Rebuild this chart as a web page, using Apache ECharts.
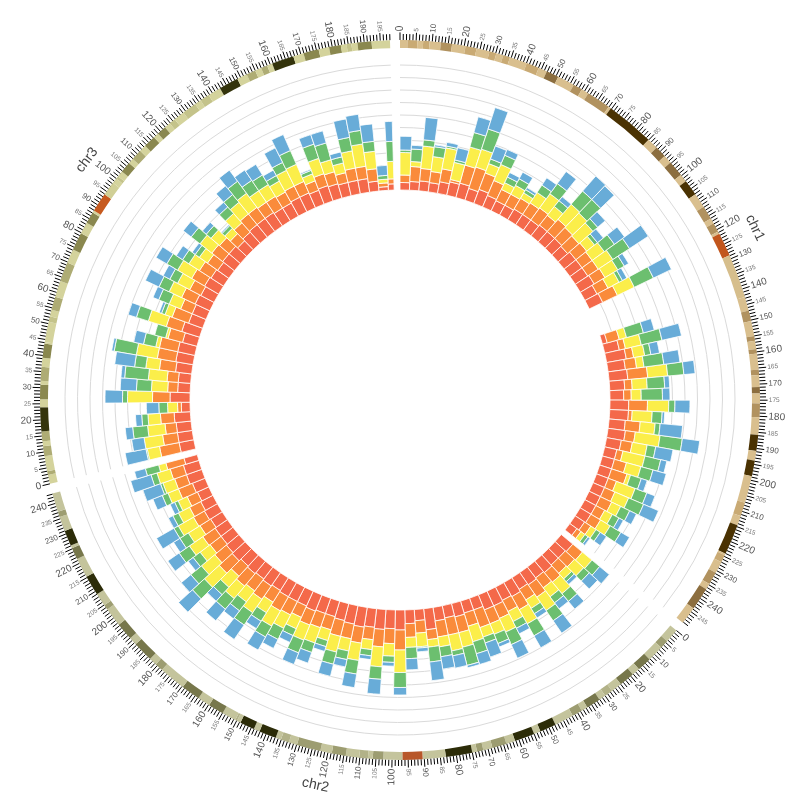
<!DOCTYPE html>
<html><head><meta charset="utf-8">
<script src="https://cdn.jsdelivr.net/npm/echarts@6/dist/echarts.min.js"></script>
<style>html,body{margin:0;padding:0;background:#fff}#c{width:800px;height:800px}</style>
</head><body><div id="c"></div>
<script>
const chromNames = ['chr1', 'chr2', 'chr3'];
const chromLengths = [249.25, 243.2, 198.02]; // Mb
const binSize = 5; // Mb
const layerNames = ['red', 'orange', 'yellow', 'green', 'blue'];

// hg19 cytobands [start, end, stain]
const chr1Bands = [[0,2.3,'gneg'],[2.3,5.4,'gpos25'],[5.4,7.2,'gneg'],[7.2,9.2,'gpos25'],[9.2,12.7,'gneg'],[12.7,16.2,'gpos50'],[16.2,20.4,'gneg'],[20.4,23.9,'gpos25'],[23.9,28,'gneg'],[28,30.2,'gpos25'],[30.2,32.4,'gneg'],[32.4,34.6,'gpos25'],[34.6,40.1,'gneg'],[40.1,44.1,'gpos25'],[44.1,46.8,'gneg'],[46.8,50.7,'gpos75'],[50.7,56.1,'gneg'],[56.1,59,'gpos50'],[59,61.3,'gneg'],[61.3,68.9,'gpos50'],[68.9,69.7,'gneg'],[69.7,84.9,'gpos100'],[84.9,88.4,'gneg'],[88.4,92,'gpos75'],[92,94.7,'gneg'],[94.7,99.7,'gpos75'],[99.7,102.2,'gneg'],[102.2,107.2,'gpos100'],[107.2,111.8,'gneg'],[111.8,116.1,'gpos50'],[116.1,117.8,'gneg'],[117.8,120.7,'gpos50'],[120.7,121.5,'gneg'],[121.5,128.9,'acen'],[128.9,142.6,'gvar'],[142.6,147,'gneg'],[147,150.3,'gpos50'],[150.3,155,'gneg'],[155,156.5,'gpos50'],[156.5,159.1,'gneg'],[159.1,160.5,'gpos50'],[160.5,165.5,'gneg'],[165.5,167.2,'gpos50'],[167.2,170.9,'gneg'],[170.9,172.9,'gpos75'],[172.9,176,'gneg'],[176,180.3,'gpos50'],[180.3,185.8,'gneg'],[185.8,190.8,'gpos100'],[190.8,193.8,'gneg'],[193.8,198.7,'gpos100'],[198.7,207.2,'gneg'],[207.2,211.5,'gpos25'],[211.5,214.5,'gneg'],[214.5,224.1,'gpos100'],[224.1,224.6,'gneg'],[224.6,227,'gpos25'],[227,230.7,'gneg'],[230.7,234.7,'gpos50'],[234.7,236.6,'gneg'],[236.6,243.7,'gpos75'],[243.7,249.25,'gneg']];
const chr2Bands = [[0,4.4,'gneg'],[4.4,7.1,'gpos50'],[7.1,12.2,'gneg'],[12.2,16.7,'gpos75'],[16.7,19.2,'gneg'],[19.2,24,'gpos75'],[24,27.4,'gneg'],[27.4,30,'gpos25'],[30,32.1,'gneg'],[32.1,36.6,'gpos75'],[36.6,38.6,'gneg'],[38.6,41.8,'gpos50'],[41.8,47.8,'gneg'],[47.8,52.9,'gpos100'],[52.9,55,'gneg'],[55,61.3,'gpos100'],[61.3,64.1,'gneg'],[64.1,68.6,'gpos50'],[68.6,71.5,'gneg'],[71.5,73.5,'gpos50'],[73.5,75,'gneg'],[75,83.3,'gpos100'],[83.3,90.5,'gneg'],[90.5,96.8,'acen'],[96.8,102.7,'gneg'],[102.7,106,'gpos50'],[106,107.5,'gneg'],[107.5,110.2,'gpos25'],[110.2,114.4,'gneg'],[114.4,118.8,'gpos50'],[118.8,122.4,'gneg'],[122.4,129.9,'gpos50'],[129.9,132.5,'gneg'],[132.5,135.1,'gpos25'],[135.1,136.8,'gneg'],[136.8,142.2,'gpos100'],[142.2,144.1,'gneg'],[144.1,148.7,'gpos100'],[148.7,149.9,'gneg'],[149.9,150.5,'gpos25'],[150.5,154.9,'gneg'],[154.9,159.8,'gpos75'],[159.8,163.7,'gneg'],[163.7,169.7,'gpos75'],[169.7,178,'gneg'],[178,180.6,'gpos50'],[180.6,183,'gneg'],[183,189.4,'gpos75'],[189.4,191.9,'gneg'],[191.9,197.4,'gpos75'],[197.4,203.3,'gneg'],[203.3,204.9,'gpos50'],[204.9,209,'gneg'],[209,215.3,'gpos100'],[215.3,221.5,'gneg'],[221.5,225.2,'gpos75'],[225.2,226.1,'gneg'],[226.1,231,'gpos100'],[231,235.6,'gneg'],[235.6,237.3,'gpos50'],[237.3,243.2,'gneg']];
const chr3Bands = [[0,2.8,'gneg'],[2.8,4,'gpos50'],[4,8.7,'gneg'],[8.7,11.8,'gpos50'],[11.8,13.3,'gneg'],[13.3,16.4,'gpos50'],[16.4,23.9,'gpos100'],[23.9,26.4,'gneg'],[26.4,30.9,'gpos75'],[30.9,32.1,'gneg'],[32.1,36.5,'gpos50'],[36.5,39.3,'gneg'],[39.3,43.7,'gpos75'],[43.7,44.2,'gneg'],[44.2,50.6,'gneg'],[50.6,52.3,'gpos25'],[52.3,54.4,'gneg'],[54.4,58.6,'gpos50'],[58.6,63.7,'gneg'],[63.7,69.8,'gpos50'],[69.8,74.2,'gneg'],[74.2,79.8,'gpos75'],[79.8,83.5,'gneg'],[83.5,87.2,'gpos75'],[87.2,87.9,'gneg'],[87.9,93.9,'acen'],[93.9,98.3,'gvar'],[98.3,100,'gneg'],[100,100.9,'gpos25'],[100.9,102.8,'gneg'],[102.8,106.2,'gpos75'],[106.2,107.9,'gneg'],[107.9,111.3,'gpos50'],[111.3,113.5,'gneg'],[113.5,117.3,'gpos75'],[117.3,119,'gneg'],[119,121.9,'gpos75'],[121.9,123.8,'gneg'],[123.8,125.8,'gpos25'],[125.8,129.2,'gneg'],[129.2,133.7,'gpos25'],[133.7,135.7,'gneg'],[135.7,138.7,'gpos25'],[138.7,142.8,'gneg'],[142.8,148.9,'gpos100'],[148.9,152.1,'gneg'],[152.1,155,'gpos50'],[155,157,'gneg'],[157,159,'gpos50'],[159,160.7,'gneg'],[160.7,167.6,'gpos100'],[167.6,170.9,'gneg'],[170.9,175.7,'gpos75'],[175.7,179,'gneg'],[179,182.7,'gpos75'],[182.7,184.5,'gneg'],[184.5,186,'gpos25'],[186,187.9,'gneg'],[187.9,192.3,'gpos75'],[192.3,198.02,'gneg']];

// stacked values per 5 Mb bin (layer heights)
const chr1Red    = [.6,.7,.8,.75,.95,1.1,1.2,1.0,1.2,1.0,.9,.9,1.0,1.0,1.0,1.1,1.1,1.1,1.0,1.2,1.2,1.2,1.3,1.1,1.2,0,0,0,.4,1.2,1.6,1.4,1.5,1.2,1.1,1.5,1.5,1.3,1.4,1.2,1.0,1.0,1.0,1.0,1.0,1.0,1.0,1.0,.9,.7];
const chr1Orange = [.6,1.2,1.0,.9,1.05,.2,1.5,1.8,1.4,1.3,1.0,1.0,1.0,1.1,1.2,1.0,1.3,1.2,1.2,1.1,1.0,1.0,1.0,1.0,1.3,0,0,0,1.0,.5,.6,.9,1.6,.6,.6,1.5,.3,1.2,.8,.9,.5,1.0,1.3,.7,.9,1.0,.8,.9,.6,.4];
const chr1Yellow = [1.8,.4,1.8,1.2,1.7,1.4,1.5,1.5,.8,1.4,.6,.8,.5,1.0,1.4,.9,1.6,1.6,1.5,.8,1.2,1.4,1.2,1.0,1.5,0,0,0,.6,1.3,.9,.6,1.6,1.2,.8,1.7,1.6,1.2,2.0,1.2,1.8,1.2,.3,1.6,1.2,.8,.7,.9,.5,.4];
const chr1Green  = [.2,1.0,.5,.8,.15,.2,1.2,1.7,.4,.8,.5,.6,.3,.7,1.0,.6,1.4,1.5,.5,.3,1.0,1.6,.6,.3,1.7,0,0,0,1.4,1.7,.5,1.6,1.3,1.4,1.7,.5,.8,.4,1.8,.7,1.3,1.0,.9,1.0,1.3,.8,.6,1.0,.4,.3];
const chr1Blue   = [1.1,.3,1.8,.15,.3,1.0,1.3,1.8,1.1,.5,.4,.6,.2,.7,1.2,.4,1.6,1.5,.8,.6,1.0,1.8,.4,.4,1.6,0,0,0,.9,1.6,.7,1.3,.9,.4,.6,1.2,.2,1.8,1.4,1.4,.5,1.1,.5,.7,1.3,.6,.4,.8,.6,.2];

const chr2Red    = [1.2,1.1,1.1,1.2,1.1,1.2,1.1,1.3,1.2,1.3,1.3,1.0,1.0,1.1,1.0,1.1,1.7,.9,1.1,1.6,1.5,1.6,1.5,1.6,1.5,1.4,1.3,1.3,1.4,1.3,1.3,1.3,1.2,1.3,1.2,1.3,1.2,1.4,1.3,1.2,1.2,1.1,1.2,1.1,1.0,1.1,1.3,1.3,1.1];
const chr2Orange = [1.0,1.0,.9,1.0,1.0,1.2,1.0,1.2,1.0,1.1,1.2,1.5,1.1,1.3,1.4,1.3,.8,1.0,1.1,1.6,1.2,1.4,1.0,1.3,1.2,1.3,1.1,1.2,1.2,1.0,1.2,1.3,1.1,1.3,1.2,1.3,1.1,1.4,1.2,1.1,1.2,1.0,1.0,1.0,.9,1.2,1.0,1.1,1.5];
const chr2Yellow = [1.0,1.0,.6,1.2,.9,1.3,.8,1.3,.9,1.2,.9,.8,1.3,1.2,1.3,.8,.6,1.1,.8,1.8,1.0,1.6,.8,1.4,1.0,1.3,.9,1.3,1.3,1.0,1.2,1.4,1.0,1.3,1.1,1.3,1.2,1.6,1.4,1.0,1.3,1.1,1.4,1.0,.8,.9,1.0,1.1,.6];
const chr2Green  = [.8,.6,.3,.8,.6,1.0,.5,1.1,.6,1.1,.8,.5,1.0,1.5,.4,.8,1.2,.1,.9,1.2,.5,1.0,.5,1.1,.7,1.0,.5,.8,1.1,.6,1.0,1.0,.8,1.2,.9,1.1,.8,1.3,1.1,.7,1.0,.8,.4,.5,.3,.5,.2,.5,1.1];
const chr2Blue   = [1.0,.9,.3,.8,.6,1.2,.4,1.1,.5,1.2,.3,1.2,.9,.2,1.0,1.0,1.5,.3,.9,.6,.3,1.2,.3,1.1,.6,1.0,.4,.9,1.0,.6,.8,1.2,.7,1.4,.8,1.2,.7,1.5,1.0,.5,1.1,.6,1.6,.4,.4,.8,1.5,1.7,.9];

const chr3Red    = [1.2,1.2,1.2,1.3,.7,1.6,1.0,1.0,1.3,1.4,1.4,1.2,1.5,1.2,1.2,1.3,1.2,1.3,1.2,1.1,1.2,1.2,1.0,1.2,1.3,1.3,1.3,1.2,1.2,1.3,1.3,1.2,1.3,1.2,1.1,1.1,1.1,.8,.3,.5];
const chr3Orange = [1.6,1.2,.9,1.1,.3,1.4,.8,.9,1.3,1.5,1.5,1.2,1.3,1.4,1.0,1.2,1.0,1.2,1.1,1.0,1.1,1.0,.8,1.0,1.1,1.1,1.0,1.1,1.0,1.0,1.0,.8,1.0,1.0,.8,1.0,1.0,1.0,.3,.4];
const chr3Yellow = [1.0,1.5,1.4,1.0,.8,2.0,1.3,1.5,1.1,1.7,.3,.2,1.5,.6,1.0,1.1,1.1,1.3,1.0,.8,1.2,.9,.6,1.0,1.2,1.4,1.1,1.1,1.0,1.4,1.5,.6,1.3,1.0,.8,1.4,1.8,1.4,.3,1.4];
const chr3Green  = [.1,0,1.2,.5,.7,.4,1.2,1.9,.9,1.8,1.0,.9,1.0,.3,.9,.9,.7,1.0,.6,.4,.9,.5,.3,.7,.8,1.2,1.0,.9,.5,.7,1.2,.3,1.2,1.4,.5,1.1,1.1,.8,.3,1.6];
const chr3Blue   = [1.7,1.0,.6,.5,1.0,1.4,1.3,.3,1.6,.2,.8,0,.7,.2,.5,1.2,.6,1.0,.6,.3,.8,.4,.1,.5,.9,1.1,1.0,1.0,.5,1.3,1.4,.1,.8,1.0,.4,1.5,1.3,1.4,.8,1.6];

const layerData = [
  [chr1Red, chr1Orange, chr1Yellow, chr1Green, chr1Blue],
  [chr2Red, chr2Orange, chr2Yellow, chr2Green, chr2Blue],
  [chr3Red, chr3Orange, chr3Yellow, chr3Green, chr3Blue]
];
const bandSets = [chr1Bands, chr2Bands, chr3Bands];

// ---------- styling ----------
const layerColors = ['#f4694a', '#fa8b3b', '#fbee4a', '#6cbf6f', '#68acd8'];
const bandPalettes = [
  {gneg:'#d9bf8e', gpos25:'#c9aa74', gpos50:'#b1925f', gpos75:'#8c6e3f', gpos100:'#4a3202', acen:'#c2561d', gvar:'#d6be8c'},
  {gneg:'#c4c49c', gpos25:'#b2b288', gpos50:'#9d9d71', gpos75:'#77774b', gpos100:'#2c2c08', acen:'#b8572a', gvar:'#c0c096'},
  {gneg:'#d4d39c', gpos25:'#c4c38a', gpos50:'#aeac74', gpos75:'#8a884f', gpos100:'#34340c', acen:'#c75a1f', gvar:'#d0cf96'}
];
const GAP = 3.1;
const offsets = [];
let acc = 0;
chromLengths.forEach(L => { offsets.push(acc); acc += L + GAP; });
const TOTAL = acc;
const FONT = 'Liberation Sans, Arial, sans-serif';

// ---------- build series data ----------
const gridData = [];
chromLengths.forEach((L, c) => {
  for (let k = 1; k <= 10; k++) gridData.push([k, offsets[c], offsets[c] + L]);
});

const layerSeriesData = layerNames.map(() => []);
layerData.forEach((layers, c) => {
  const n = layers[0].length;
  for (let i = 0; i < n; i++) {
    const s = offsets[c] + i * binSize;
    const e = offsets[c] + Math.min((i + 1) * binSize, chromLengths[c]);
    let base = 0;
    for (let l = 0; l < 5; l++) {
      const v = layers[l][i];
      if (v > 0) layerSeriesData[l].push([s, e, base, base + v]);
      base += v;
    }
  }
});

const bandData = [];
bandSets.forEach((bands, c) => {
  bands.forEach(b => {
    bandData.push({value: [offsets[c] + b[0], offsets[c] + b[1]], itemStyle: {color: bandPalettes[c][b[2]]}});
  });
});

const tickData = [];
const labelData = [];
chromLengths.forEach((L, c) => {
  for (let m = 0; m <= Math.floor(L); m++) {
    tickData.push([offsets[c] + m, m % 5 === 0 ? 1 : 0]);
    if (m % 5 === 0) labelData.push([offsets[c] + m, m]);
  }
});
const chromLabelData = chromLengths.map((L, c) => [offsets[c] + L / 2, c]);

function toDeg(rad) { return 90 - rad * 180 / Math.PI; } // clockwise-from-north degrees

function sectorRender(params, api) {
  const cs = params.coordSys;
  const a = api.coord([api.value(2), api.value(0)]);
  const b = api.coord([api.value(3), api.value(1)]);
  return {
    type: 'sector',
    shape: {cx: cs.cx, cy: cs.cy, r0: a[2], r: b[2], startAngle: -a[3], endAngle: -b[3], clockwise: true},
    style: {fill: api.visual('color'), stroke: '#ffffff', lineWidth: 0.8}
  };
}

const series = [];
series.push({
  type: 'custom', coordinateSystem: 'polar', polarIndex: 0, silent: true, z: 1,
  data: gridData,
  encode: {radius: 0, angle: [1, 2]},
  renderItem: function (params, api) {
    const cs = params.coordSys;
    const a = api.coord([api.value(0), api.value(1)]);
    const b = api.coord([api.value(0), api.value(2)]);
    return {type: 'arc', shape: {cx: cs.cx, cy: cs.cy, r: a[2], startAngle: -a[3], endAngle: -b[3], clockwise: true},
      style: {stroke: '#dadada', lineWidth: 1, fill: null}};
  }
});
layerNames.forEach((name, l) => {
  series.push({
    name: name, type: 'custom', coordinateSystem: 'polar', polarIndex: 0, silent: true, z: 2,
    itemStyle: {color: layerColors[l]},
    data: layerSeriesData[l],
    encode: {angle: [0, 1], radius: [2, 3]},
    renderItem: sectorRender
  });
});
series.push({
  type: 'custom', coordinateSystem: 'polar', polarIndex: 1, silent: true, z: 2,
  data: bandData,
  encode: {angle: [0, 1]},
  renderItem: function (params, api) {
    const cs = params.coordSys;
    const a = api.coord([0, api.value(0)]);
    const b = api.coord([1, api.value(1)]);
    return {type: 'sector', shape: {cx: cs.cx, cy: cs.cy, r0: a[2], r: b[2], startAngle: -a[3], endAngle: -b[3], clockwise: true},
      style: {fill: api.visual('color')}};
  }
});
series.push({
  type: 'custom', coordinateSystem: 'polar', polarIndex: 1, silent: true, z: 3,
  data: tickData,
  encode: {angle: 0},
  renderItem: function (params, api) {
    const a = api.coord([1, api.value(0)]);
    const b = api.coord([api.value(1) ? 1.95 : 1.75, api.value(0)]);
    return {type: 'line', shape: {x1: a[0], y1: a[1], x2: b[0], y2: b[1]}, style: {stroke: '#000', lineWidth: 1}};
  }
});
series.push({
  type: 'custom', coordinateSystem: 'polar', polarIndex: 1, silent: true, z: 3,
  data: labelData,
  encode: {angle: 0},
  renderItem: function (params, api) {
    const m = api.value(1);
    const p = api.coord([2.1, api.value(0)]);
    const t = ((toDeg(p[3]) % 360) + 360) % 360;
    let alpha, align;
    if (t < 180) { alpha = t - 90; align = 'left'; } else { alpha = t - 270; align = 'right'; }
    const size = m % 20 === 0 ? 10 : (m % 10 === 0 ? 8 : 6.5);
    return {type: 'text', x: p[0], y: p[1], rotation: -alpha * Math.PI / 180,
      style: {text: String(m), fill: m % 10 === 0 ? '#555' : '#777', fontSize: size, fontFamily: FONT, align: align, verticalAlign: 'middle'}};
  }
});
series.push({
  type: 'custom', coordinateSystem: 'polar', polarIndex: 1, silent: true, z: 3,
  data: chromLabelData,
  encode: {angle: 0},
  renderItem: function (params, api) {
    const p = api.coord([5.3, api.value(0)]);
    const t = ((toDeg(p[3]) % 360) + 360) % 360;
    let alpha = (t > 90 && t < 270) ? t - 180 : (t >= 270 ? t - 360 : t);
    return {type: 'text', x: p[0], y: p[1], rotation: -alpha * Math.PI / 180,
      style: {text: chromNames[api.value(1)], fill: '#444', fontSize: 14, fontFamily: FONT, align: 'center', verticalAlign: 'middle'}};
  }
});

const chart = echarts.init(document.getElementById('c'), null, {renderer: 'canvas'});
chart.setOption({
  animation: false,
  backgroundColor: '#ffffff',
  polar: [
    {center: ['50%', '50%'], radius: [210, 335]},
    {center: ['50%', '50%'], radius: [352, 360]}
  ],
  angleAxis: [
    {polarIndex: 0, type: 'value', min: 0, max: TOTAL, startAngle: 90, clockwise: true, show: false},
    {polarIndex: 1, type: 'value', min: 0, max: TOTAL, startAngle: 90, clockwise: true, show: false}
  ],
  radiusAxis: [
    {polarIndex: 0, type: 'value', min: 0, max: 10, show: false},
    {polarIndex: 1, type: 'value', min: 0, max: 1, show: false}
  ],
  series: series
});
</script>
</body></html>
